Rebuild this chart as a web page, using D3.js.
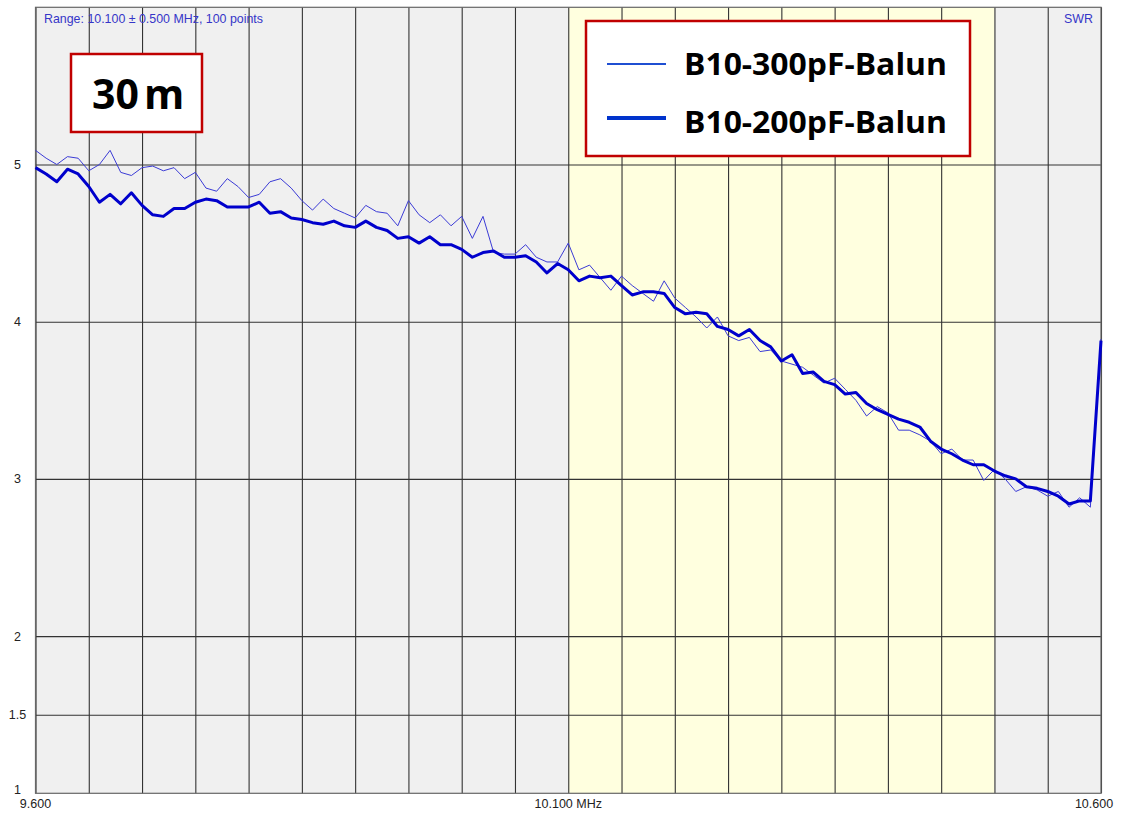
<!DOCTYPE html>
<html>
<head>
<meta charset="utf-8">
<script src="https://cdn.jsdelivr.net/npm/d3@7"></script>
<style>
  body { margin: 0; background: #fff; }
  svg { display: block; font-family: "Liberation Sans", Arial, sans-serif; }
</style>
</head>
<body>
<div id="chart"></div>
<script>
// Sweep: 10.100 ± 0.500 MHz, 101 samples at 10 kHz steps
const freqStart = 9.6;
const freqStep = 0.01;

// SWR, one value per sample
const swr300 = [
  5.09, 5.04, 5.00, 5.05, 5.04, 4.96, 5.00, 5.09, 4.95, 4.93,
  4.98, 4.99, 4.96, 4.98, 4.91, 4.95, 4.85, 4.83, 4.91, 4.86,
  4.79, 4.81, 4.89, 4.91, 4.85, 4.77, 4.71, 4.78, 4.72, 4.69,
  4.66, 4.74, 4.70, 4.69, 4.61, 4.77, 4.68, 4.63, 4.68, 4.61,
  4.67, 4.53, 4.67, 4.44, 4.43, 4.43, 4.49, 4.41, 4.38, 4.38,
  4.50, 4.33, 4.36, 4.28, 4.20, 4.29, 4.23, 4.18, 4.13, 4.26,
  4.15, 4.09, 4.03, 3.96, 4.03, 3.91, 3.88, 3.90, 3.81, 3.82,
  3.75, 3.73, 3.71, 3.66, 3.61, 3.64, 3.57, 3.50, 3.40, 3.46,
  3.42, 3.31, 3.31, 3.28, 3.24, 3.16, 3.19, 3.12, 3.12, 2.99,
  3.06, 3.00, 2.92, 2.95, 2.93, 2.89, 2.92, 2.82, 2.88, 2.82,
  3.89
];
const swr200 = [
  4.98, 4.94, 4.89, 4.97, 4.94, 4.86, 4.76, 4.81, 4.75, 4.82,
  4.74, 4.68, 4.67, 4.72, 4.72, 4.76, 4.78, 4.77, 4.73, 4.73,
  4.73, 4.76, 4.69, 4.70, 4.66, 4.65, 4.63, 4.62, 4.64, 4.61,
  4.60, 4.64, 4.60, 4.58, 4.53, 4.54, 4.50, 4.54, 4.49, 4.49,
  4.46, 4.41, 4.44, 4.45, 4.41, 4.41, 4.42, 4.38, 4.31, 4.37,
  4.33, 4.26, 4.29, 4.28, 4.29, 4.23, 4.17, 4.19, 4.19, 4.18,
  4.09, 4.05, 4.06, 4.05, 3.97, 3.95, 3.91, 3.95, 3.88, 3.84,
  3.75, 3.79, 3.67, 3.68, 3.62, 3.60, 3.54, 3.55, 3.48, 3.44,
  3.41, 3.38, 3.36, 3.33, 3.24, 3.19, 3.16, 3.12, 3.09, 3.09,
  3.05, 3.02, 3.00, 2.95, 2.94, 2.92, 2.89, 2.84, 2.86, 2.86,
  3.88
];

const seriesNames = ["B10-300pF-Balun", "B10-200pF-Balun"];
const xGridTicks = d3.range(21).map(i => 9.6 + i * 0.05);
const xLabelTicks = [9.6, 10.1, 10.6];
const xLabels = ["9.600", "10.100 MHz", "10.600"];
const yTicks = [1, 1.5, 2, 3, 4, 5];
const bandStart = 10.1;
const bandEnd = 10.5;

const width = 1128;
const height = 814;
const plotLeft = 35.5, plotRight = 1101, plotTop = 7.3, plotBottom = 793.3;

const svg = d3.select("#chart")
  .append("svg")
  .attr("width", width)
  .attr("height", height);

const xScale = d3.scaleLinear().domain([9.6, 10.6]).range([plotLeft, plotRight]);
const yScale = d3.scaleLinear().domain([1, 6]).range([plotBottom, plotTop]);

// plot background + band
svg.append("rect")
  .attr("x", plotLeft).attr("y", plotTop)
  .attr("width", plotRight - plotLeft).attr("height", plotBottom - plotTop)
  .attr("fill", "#f0f0f0");

svg.append("rect")
  .attr("x", xScale(bandStart)).attr("y", plotTop)
  .attr("width", xScale(bandEnd) - xScale(bandStart)).attr("height", plotBottom - plotTop)
  .attr("fill", "#ffffdf");

// grid
svg.append("g")
  .attr("transform", `translate(0, ${plotBottom})`)
  .call(d3.axisBottom(xScale).tickValues(xGridTicks).tickSize(-(plotBottom - plotTop)).tickFormat(""))
  .call(g => g.select(".domain").remove())
  .call(g => g.selectAll(".tick line").attr("stroke", "#333").attr("stroke-width", 1.1));

svg.append("g")
  .attr("transform", `translate(${plotLeft}, 0)`)
  .call(d3.axisLeft(yScale).tickValues(yTicks.slice(1)).tickSize(-(plotRight - plotLeft)).tickFormat(""))
  .call(g => g.select(".domain").remove())
  .call(g => g.selectAll(".tick line").attr("stroke", "#333").attr("stroke-width", 1.1));

svg.append("rect")
  .attr("x", plotLeft).attr("y", plotTop)
  .attr("width", plotRight - plotLeft).attr("height", plotBottom - plotTop)
  .attr("fill", "none")
  .attr("stroke", "#666")
  .attr("stroke-width", 1.2);

// tick labels
svg.selectAll(".ylab")
  .data(yTicks)
  .enter()
  .append("text")
  .attr("class", "ylab")
  .attr("x", 17.5)
  .attr("y", d => Math.min(yScale(d), 789) + 4.5)
  .attr("text-anchor", "middle")
  .attr("font-size", 12.5)
  .attr("fill", "#222")
  .text(d => d);

svg.selectAll(".xlab")
  .data(xLabelTicks)
  .enter()
  .append("text")
  .attr("class", "xlab")
  .attr("x", (d, i) => i === 2 ? xScale(d) - 7 : xScale(d))
  .attr("y", 807.5)
  .attr("text-anchor", "middle")
  .attr("font-size", 12.5)
  .attr("fill", "#222")
  .text((d, i) => xLabels[i]);

svg.append("text")
  .attr("x", 44).attr("y", 22.5)
  .attr("font-size", 12.4)
  .attr("fill", "#3535c8")
  .text("Range: 10.100 ± 0.500 MHz, 100 points");

svg.append("text")
  .attr("x", 1093).attr("y", 22.5)
  .attr("text-anchor", "end")
  .attr("font-size", 12.4)
  .attr("fill", "#3535c8")
  .text("SWR");

// traces
const line = d3.line()
  .x((d, i) => xScale(freqStart + i * freqStep))
  .y(d => yScale(d));

svg.append("path")
  .datum(swr300)
  .attr("fill", "none")
  .attr("stroke", "#3b3bd6")
  .attr("stroke-width", 1)
  .attr("d", line);

svg.append("path")
  .datum(swr200)
  .attr("fill", "none")
  .attr("stroke", "#0000cc")
  .attr("stroke-width", 3)
  .attr("stroke-linejoin", "round")
  .attr("d", line);

// band label
svg.append("rect")
  .attr("x", 71).attr("y", 54)
  .attr("width", 131).attr("height", 78)
  .attr("fill", "#fff")
  .attr("stroke", "#c00000")
  .attr("stroke-width", 2.5);

svg.append("text")
  .attr("x", 92).attr("y", 109)
  .attr("font-family", "'Open Sans', sans-serif")
  .attr("font-weight", "bold")
  .attr("font-size", 41)
  .text("30")
  .append("tspan")
  .attr("dx", 5)
  .text("m");

// legend
const legend = svg.append("g");
legend.append("rect")
  .attr("x", 586).attr("y", 21)
  .attr("width", 384).attr("height", 135)
  .attr("fill", "#fff")
  .attr("stroke", "#c00000")
  .attr("stroke-width", 2.5);

const legendWidths = [2, 4];
const legendColors = ["#1f4fd2", "#0033cc"];
seriesNames.forEach((name, i) => {
  const cy = i === 0 ? 64 : 118;
  legend.append("line")
    .attr("x1", 607).attr("x2", 666)
    .attr("y1", cy).attr("y2", cy)
    .attr("stroke", legendColors[i])
    .attr("stroke-width", legendWidths[i]);
  legend.append("text")
    .attr("x", 684).attr("y", i === 0 ? 75 : 132.5)
    .attr("font-family", "'Open Sans', sans-serif")
    .attr("font-weight", "bold")
    .attr("font-size", 31)
    .attr("textLength", 263)
    .attr("lengthAdjust", "spacingAndGlyphs")
    .attr("fill", "#000")
    .text(name);
});
</script>
</body>
</html>
